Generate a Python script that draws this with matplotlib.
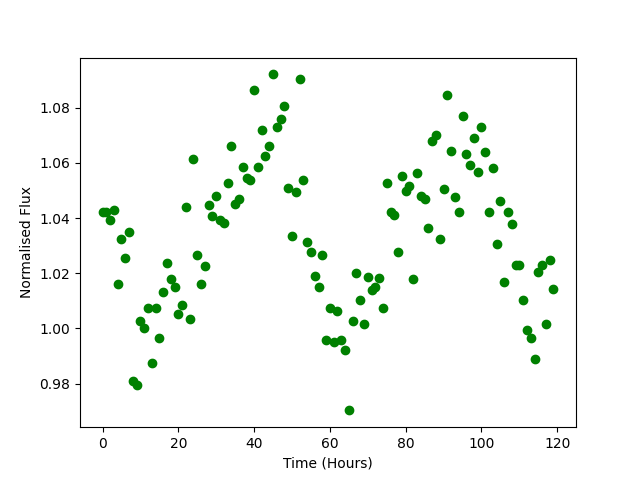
import matplotlib
matplotlib.use("Agg")
import matplotlib.pyplot as plt

# time in hours
hours = list(range(120))

# normalised flux
flux = [1.0424, 1.0424, 1.0392, 1.0428, 1.0160, 1.0326, 1.0254, 1.0348, 0.9808, 0.9794,
        1.0026, 1.0000, 1.0073, 0.9874, 1.0076, 0.9964, 1.0131, 1.0236, 1.0178, 1.0149,
        1.0051, 1.0084, 1.0442, 1.0033, 1.0616, 1.0265, 1.0163, 1.0225, 1.0446, 1.0406,
        1.0479, 1.0392, 1.0381, 1.0526, 1.0663, 1.0453, 1.0471, 1.0587, 1.0544, 1.0540,
        1.0866, 1.0587, 1.0718, 1.0624, 1.0663, 1.0921, 1.0732, 1.0758, 1.0805, 1.0508,
        1.0337, 1.0493, 1.0906, 1.0540, 1.0312, 1.0279, 1.0189, 1.0149, 1.0268, 0.9960,
        1.0073, 0.9950, 1.0062, 0.9960, 0.9921, 0.9703, 1.0026, 1.0200, 1.0105, 1.0015,
        1.0185, 1.0138, 1.0149, 1.0182, 1.0073, 1.0529, 1.0424, 1.0413, 1.0279, 1.0551,
        1.0500, 1.0518, 1.0178, 1.0562, 1.0482, 1.0471, 1.0363, 1.0678, 1.0703, 1.0323,
        1.0504, 1.0845, 1.0645, 1.0475, 1.0421, 1.0772, 1.0634, 1.0591, 1.0689, 1.0569,
        1.0732, 1.0638, 1.0421, 1.0580, 1.0305, 1.0461, 1.0167, 1.0421, 1.0377, 1.0230,
        1.0230, 1.0105, 0.9993, 0.9964, 0.9888, 1.0203, 1.0229, 1.0018, 1.0247, 1.0142]

plt.figure(figsize=(6.4, 4.8), dpi=100)
plt.scatter(hours, flux, color='green')
plt.xlabel('Time (Hours)')
plt.ylabel('Normalised Flux')
plt.savefig('out.png')
